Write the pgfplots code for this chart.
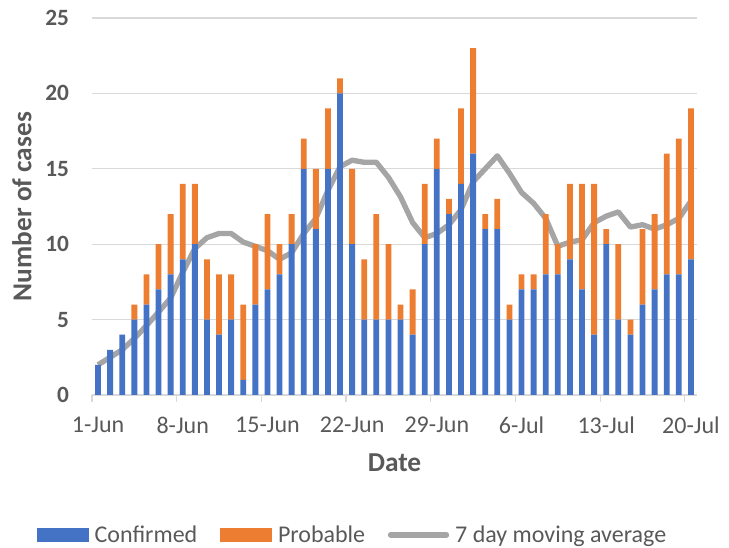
\documentclass[border=0pt]{standalone}
\usepackage{pgfplots}
\pgfplotsset{compat=1.18}
\usepackage{fontspec}
\setmainfont{Carlito}
\definecolor{cblue}{HTML}{4472C4}
\definecolor{corange}{HTML}{ED7D31}
\definecolor{cgray}{HTML}{A5A5A5}
\definecolor{ctext}{HTML}{595959}
\definecolor{cgrid}{HTML}{D9D9D9}
\begin{document}
\begin{tikzpicture}
\path[use as bounding box] (-69pt,-114.75pt) rectangle (477.75pt,296.25pt);
\begin{axis}[
  at={(0,0)}, anchor=south west,
  scale only axis, width=453.75pt, height=282.75pt,
  /pgf/number format/assume math mode=true,
  ybar stacked, bar width=0.48,
  xmin=0.5, xmax=50.5, ymin=0, ymax=25,
  ytick={0,5,10,15,20,25},
  xtick={1,8,15,22,29,36,43,50},
  xticklabels={1-Jun,8-Jun,15-Jun,22-Jun,29-Jun,6-Jul,13-Jul,20-Jul},
  extra x ticks={0.5,7.5,14.5,21.5,28.5,35.5,42.5,49.5},
  extra x tick labels={},
  extra x tick style={major tick length=5pt, tick align=outside, tick style={cgrid, line width=0.9pt}},
  major tick length=0pt,
  axis x line*=bottom, axis y line*=left,
  x axis line style={cgrid, line width=0.9pt, -},
  y axis line style={draw=none},
  ymajorgrids, grid style={cgrid, line width=0.9pt},
  xticklabel style={font=\fontsize{18}{20}\selectfont, text=ctext, anchor=center, yshift=-22.5pt},
  yticklabel style={font=\fontsize{17.5}{20}\selectfont\bfseries, text=ctext, anchor=east, inner sep=0pt, xshift=-17pt},
  xlabel={Date}, ylabel={Number of cases},
  xlabel style={font=\fontsize{20.5}{22}\selectfont\bfseries, text=ctext, at={(axis description cs:0.5,-0.180)}, anchor=center},
  ylabel style={font=\fontsize{20.5}{22}\selectfont\bfseries, text=ctext, at={(axis description cs:-0.116,0.5)}, anchor=center, rotate=0},
  legend columns=3,
  legend style={at={(axis description cs:0.431,-0.371)}, anchor=center, draw=none, fill=none,
    font=\fontsize{18}{20}\selectfont, text=ctext,
    /tikz/every odd column/.append style={column sep=2.5pt},
    /tikz/every even column/.append style={column sep=15pt}},
]
\addplot[fill=cblue, draw=none,
  legend image code/.code={\path[fill=cblue] (0pt,-5pt) rectangle (39pt,5pt);}]
coordinates {
(1,2)(2,3)(3,4)(4,5)(5,6)(6,7)(7,8)(8,9)(9,10)(10,5)
(11,4)(12,5)(13,1)(14,6)(15,7)(16,8)(17,10)(18,15)(19,11)(20,15)
(21,20)(22,10)(23,5)(24,5)(25,5)(26,5)(27,4)(28,10)(29,15)(30,12)
(31,14)(32,16)(33,11)(34,11)(35,5)(36,7)(37,7)(38,8)(39,8)(40,9)
(41,7)(42,4)(43,10)(44,5)(45,4)(46,6)(47,7)(48,8)(49,8)(50,9)};
\addlegendentry{Confirmed}
\addplot[fill=corange, draw=none,
  legend image code/.code={\path[fill=corange] (0pt,-5pt) rectangle (39pt,5pt);}]
coordinates {
(1,0)(2,0)(3,0)(4,1)(5,2)(6,3)(7,4)(8,5)(9,4)(10,4)
(11,4)(12,3)(13,5)(14,4)(15,5)(16,2)(17,2)(18,2)(19,4)(20,4)
(21,1)(22,5)(23,4)(24,7)(25,5)(26,1)(27,3)(28,4)(29,2)(30,1)
(31,5)(32,7)(33,1)(34,2)(35,1)(36,1)(37,1)(38,4)(39,2)(40,5)
(41,7)(42,10)(43,1)(44,5)(45,1)(46,5)(47,5)(48,8)(49,9)(50,10)};
\addlegendentry{Probable}
\addplot[stack plots=false, sharp plot, color=cgray, line width=4pt, line join=round, mark=none,
  legend image code/.code={\draw[cgray, line width=4pt, line cap=round] (0pt,0pt) -- (42pt,0pt);}]
coordinates {
(1,2.00)(2,2.50)(3,3.00)(4,3.75)(5,4.60)(6,5.50)(7,6.43)(8,8.14)(9,9.71)(10,10.43)
(11,10.71)(12,10.71)(13,10.14)(14,9.86)(15,9.57)(16,9.00)(17,9.43)(18,10.71)(19,11.71)(20,13.57)
(21,15.14)(22,15.57)(23,15.43)(24,15.43)(25,14.43)(26,13.14)(27,11.43)(28,10.43)(29,10.71)(30,11.29)
(31,12.29)(32,14.14)(33,15.00)(34,15.86)(35,14.71)(36,13.43)(37,12.71)(38,11.71)(39,9.86)(40,10.14)
(41,10.29)(42,11.43)(43,11.86)(44,12.14)(45,11.14)(46,11.29)(47,11.00)(48,11.29)(49,11.71)(50,12.86)};
\addlegendentry{7 day moving average}
\end{axis}
\end{tikzpicture}
\end{document}
